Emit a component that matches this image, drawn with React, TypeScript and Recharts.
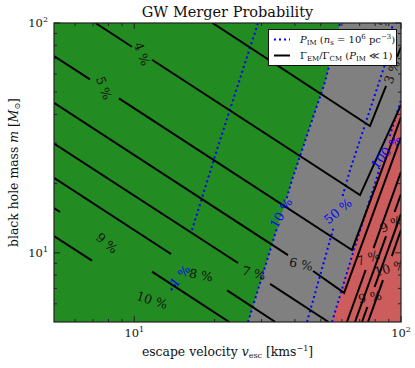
import React from 'react';
import { ComposedChart, Area, Line, Scatter, XAxis, YAxis } from 'recharts';

type Pt = [number, number] | null;

// log axes, v (km/s) and m (Msun)
const xDomain = [5, 100];
const yDomain = [5, 100];
const xTicks = [6, 7, 8, 9, 10, 20, 30, 40, 50, 60, 70, 80, 90, 100];
const yTicks = [6, 7, 8, 9, 10, 20, 30, 40, 50, 60, 70, 80, 90, 100];
const majorTicks = [10, 100];

// Gamma_EM / Gamma_CM contours, [v, m], null = label gap
const gamma3: Pt[] = [[19.65, 100], [76.5, 35.6], [87.9, 53.2], null, [96.6, 71.1], [100, 78.6]];
const gamma4: Pt[] = [[7.15, 100], [9.8, 78.8], null, [11.65, 69.2], [70.2, 17.84], [100, 44.0]];
const gamma5: Pt[] = [[5, 71.8], [6.82, 56.8], null, [8.76, 47.0], [65.5, 10.29], [82.0, 20.7], [100, 39.0]];
const gamma6: Pt[] = [[5, 44.9], [37.7, 9.78], null, [46.8, 8.33], [61.2, 6.69], [100, 31.9]];
const gamma7: Pt[] = [[5, 29.9], [24.5, 9.03], null, [32.3, 7.32], [53.5, 5]];
const gamma8: Pt[] = [[5, 21.2], [13.73, 9.88], null, [22.3, 6.86], [33.8, 5]];
const gamma9: Pt[] = [[5, 15.67], [5.27, 15.05], null, [11.65, 8.28], [22.7, 5]];
const gamma10: Pt[] = [[5, 11.83], [6.94, 9.24]];
// steep branches in the red region
const gammaR1: Pt[] = [[62.7, 5], [73.7, 8.42], null, [78.9, 10.49], [100, 22.5]];
const gammaR2: Pt[] = [[67.2, 5], [87.9, 11.83], null, [94.6, 15.05], [100, 18.0]];
const gammaR3: Pt[] = [[71.4, 5], [74.8, 5.81], null, [79.6, 7.1], [100, 14.76]];
const gammaR4: Pt[] = [[75.2, 5], [85.6, 7.61], null, [92.4, 9.68], [100, 12.57]];

// P_IM contours (n_s = 1e6 pc^-3)
const pim1: Pt[] = [[13.73, 6.89], [14.34, 7.32], null, [16.46, 12.57], [20.4, 28.0], [29.1, 100]];
const pim10: Pt[] = [[26.7, 5], [34.3, 12.82], null, [37.3, 17.3], [39.0, 20.7], [51.9, 55.4], [59.1, 100]];
const pim50: Pt[] = [[44.4, 5], [56.1, 13.08], null, [60.4, 17.67], [64.4, 22.9], [87.9, 68.3], [93.3, 100]];
const pim100: Pt[] = [[55.1, 5], [66.6, 10.29], [80.6, 20.7], [83.2, 23.4], null, [90.8, 32.2], [100, 46.2]];

const gammaLabels = [
	{ v: 84.1, m: 97.0, text: '2 %' },
	{ v: 92.5, m: 61.2, text: '3 %' },
	{ v: 10.69, m: 73.3, text: '4 %' },
	{ v: 7.7, m: 52.1, text: '5 %' },
	{ v: 42.2, m: 8.94, text: '6 %' },
	{ v: 28.1, m: 8.17, text: '7 %' },
	{ v: 17.8, m: 8.01, text: '8 %' },
	{ v: 7.9, m: 11.03, text: '9 %' },
	{ v: 11.65, m: 6.23, text: '10 %' },
	{ v: 91.8, m: 13.35, text: '9 %' },
	{ v: 75.2, m: 9.49, text: '7 %' },
	{ v: 90.9, m: 8.59, text: '10 %' },
	{ v: 76.5, m: 6.42, text: '9 %' },
];
const gammaTilt = [-60, -70, 70, 70, 12, 15, 10, 40, 18, -25, -18, -15, -10];

const pimLabels = [
	{ v: 14.84, m: 7.93, text: '1 %' },
	{ v: 35.5, m: 14.9, text: '10 %' },
	{ v: 58.0, m: 15.2, text: '50 %' },
	{ v: 87.9, m: 27.5, text: '100 %' },
];
const pimTilt = [-50, -60, -40, -50];

const W = 415;
const H = 368;
const M = { top: 23, right: 14, bottom: 0, left: 0 };
const Y_W = 54;
const X_H = 46;
const PLOT_W = W - M.right - Y_W;
const PLOT_H = H - M.top - X_H;
const FONT = "'DejaVu Serif', serif";
const AX = '#222';

const toRows = (pts: Pt[]) => {
	let last = 5;
	return pts.map((p) => {
		if (p === null) return { v: last, m: null };
		last = p[0];
		return { v: p[0], m: p[1] };
	});
};
const solid = (pts: Pt[]) => toRows(pts.filter((p) => p !== null));

const greenEdge = [{ v: 5, m: 5 }, ...solid(pim10)];
const redEdge = solid(pim100);
const fullPlot = [{ v: 5, m: 100 }, { v: 100, m: 100 }];

const BottomTick = (p: any) => {
	const { x, y, payload } = p;
	const major = majorTicks.includes(payload.value);
	const len = major ? 6 : 3;
	return (
		<g>
			<line x1={x} x2={x} y1={y} y2={y - len} stroke={AX} />
			<line x1={x} x2={x} y1={y - PLOT_H} y2={y - PLOT_H + len} stroke={AX} />
			{major && (
				<text x={x} y={y + 15} textAnchor='middle' fontSize={11.5} fontFamily={FONT} fill='#111'>
					10
					<tspan dy={-5} fontSize={8}>
						{Math.round(Math.log10(payload.value))}
					</tspan>
				</text>
			)}
		</g>
	);
};

const LeftTick = (p: any) => {
	const { x, y, payload } = p;
	const major = majorTicks.includes(payload.value);
	const len = major ? 6 : 3;
	return (
		<g>
			<line x1={x} x2={x + len} y1={y} y2={y} stroke={AX} />
			<line x1={x + PLOT_W} x2={x + PLOT_W - len} y1={y} y2={y} stroke={AX} />
			{major && (
				<text x={x - 6} y={y + 4} textAnchor='end' fontSize={11.5} fontFamily={FONT} fill='#111'>
					10
					<tspan dy={-5} fontSize={8}>
						{Math.round(Math.log10(payload.value))}
					</tspan>
				</text>
			)}
		</g>
	);
};

const labelShape = (color: string) => (p: any) => {
	const { cx, cy, payload } = p;
	return (
		<text
			x={cx}
			y={cy}
			textAnchor='middle'
			dominantBaseline='central'
			fontSize={12.5}
			fontFamily={FONT}
			fill={color}
			transform={`rotate(${payload.tilt} ${cx} ${cy})`}
		>
			{payload.text}
		</text>
	);
};

const gammaLines = [gamma3, gamma4, gamma5, gamma6, gamma7, gamma8, gamma9, gamma10, gammaR1, gammaR2, gammaR3, gammaR4];
const pimLines = [pim1, pim10, pim50, pim100];

const Overlay = () => (
	<svg
		width={W}
		height={H}
		style={{ position: 'absolute', left: 0, top: 0, pointerEvents: 'none' }}
		fontFamily={FONT}
	>
		<rect x={Y_W} y={M.top} width={PLOT_W} height={PLOT_H} fill='none' stroke={AX} strokeWidth={1.2} />
		<text x={Y_W + PLOT_W / 2} y={17} textAnchor='middle' fontSize={14.5} fill='#111'>
			GW Merger Probability
		</text>
		<text x={Y_W + PLOT_W / 2} y={356} textAnchor='middle' fontSize={12.4} fill='#111'>
			escape velocity <tspan fontStyle='italic'>v</tspan>
			<tspan fontSize={8} dy={2}>esc</tspan>
			<tspan dy={-2}> [kms</tspan>
			<tspan fontSize={8} dy={-5}>−1</tspan>
			<tspan dy={5}>]</tspan>
		</text>
		<text
			x={18}
			y={M.top + PLOT_H / 2}
			textAnchor='middle'
			fontSize={12.4}
			fill='#111'
			transform={`rotate(-90 18 ${M.top + PLOT_H / 2})`}
		>
			black hole mass <tspan fontStyle='italic'>m</tspan> [<tspan fontStyle='italic'>M</tspan>
			<tspan fontSize={8} dy={2}>⊙</tspan>
			<tspan dy={-2}>]</tspan>
		</text>
		<rect x={268.5} y={29.5} width={128} height={36} fill='white' stroke='#111' strokeWidth={1} />
		<line x1={274} x2={290} y1={39.5} y2={39.5} stroke='blue' strokeWidth={2} strokeDasharray='2 3' />
		<text x={300} y={43} fontSize={10} fill='#111'>
			<tspan fontStyle='italic'>P</tspan>
			<tspan fontSize={7} dy={2}>IM</tspan>
			<tspan dy={-2}> (</tspan>
			<tspan fontStyle='italic'>n</tspan>
			<tspan fontSize={7} dy={2}>s</tspan>
			<tspan dy={-2}> = 10</tspan>
			<tspan fontSize={7} dy={-4}>6</tspan>
			<tspan dy={4}> pc</tspan>
			<tspan fontSize={7} dy={-4}>−3</tspan>
			<tspan dy={4}>)</tspan>
		</text>
		<line x1={274} x2={290} y1={55.5} y2={55.5} stroke='black' strokeWidth={2} />
		<text x={300} y={59} fontSize={10} fill='#111'>
			Γ<tspan fontSize={7} dy={2}>EM</tspan>
			<tspan dy={-2}>/Γ</tspan>
			<tspan fontSize={7} dy={2}>CM</tspan>
			<tspan dy={-2}> (</tspan>
			<tspan fontStyle='italic'>P</tspan>
			<tspan fontSize={7} dy={2}>IM</tspan>
			<tspan dy={-2}> ≪ 1)</tspan>
		</text>
	</svg>
);

const App = () => {
	return (
		<div style={{ position: 'absolute', left: 0, top: 0, width: W, height: H, background: 'white' }}>
			<ComposedChart width={W} height={H} margin={M}>
				<XAxis
					dataKey='v'
					type='number'
					scale='log'
					domain={xDomain}
					allowDataOverflow
					ticks={xTicks}
					interval={0}
					tickSize={0}
					tickMargin={0}
					tickLine={false}
					axisLine={false}
					tick={<BottomTick />}
					height={X_H}
				/>
				<YAxis
					dataKey='m'
					type='number'
					scale='log'
					domain={yDomain}
					allowDataOverflow
					ticks={yTicks}
					interval={0}
					tickSize={0}
					tickMargin={0}
					tickLine={false}
					axisLine={false}
					tick={<LeftTick />}
					width={Y_W}
				/>
				<Area data={fullPlot} dataKey='m' type='linear' baseValue={5} fill='#808080' fillOpacity={1} stroke='none' isAnimationActive={false} />
				<Area data={redEdge} dataKey='m' type='linear' baseValue={5} fill='#cd5c5c' fillOpacity={1} stroke='none' isAnimationActive={false} />
				<Area data={greenEdge} dataKey='m' type='linear' baseValue={100} fill='#228b22' fillOpacity={1} stroke='none' isAnimationActive={false} />
				{pimLines.map((pts, i) => (
					<Line
						key={`p${i}`}
						data={toRows(pts)}
						dataKey='m'
						type='linear'
						stroke='blue'
						strokeWidth={2}
						strokeDasharray='2 3'
						dot={false}
						isAnimationActive={false}
					/>
				))}
				{gammaLines.map((pts, i) => (
					<Line
						key={`g${i}`}
						data={toRows(pts)}
						dataKey='m'
						type='linear'
						stroke='black'
						strokeWidth={2}
						dot={false}
						isAnimationActive={false}
					/>
				))}
				<Scatter
					data={gammaLabels.map((l, i) => ({ ...l, tilt: gammaTilt[i] }))}
					dataKey='m'
					shape={labelShape('#111')}
					isAnimationActive={false}
				/>
				<Scatter
					data={pimLabels.map((l, i) => ({ ...l, tilt: pimTilt[i] }))}
					dataKey='m'
					shape={labelShape('blue')}
					isAnimationActive={false}
				/>
			</ComposedChart>
			<Overlay />
		</div>
	);
};

export default App;
